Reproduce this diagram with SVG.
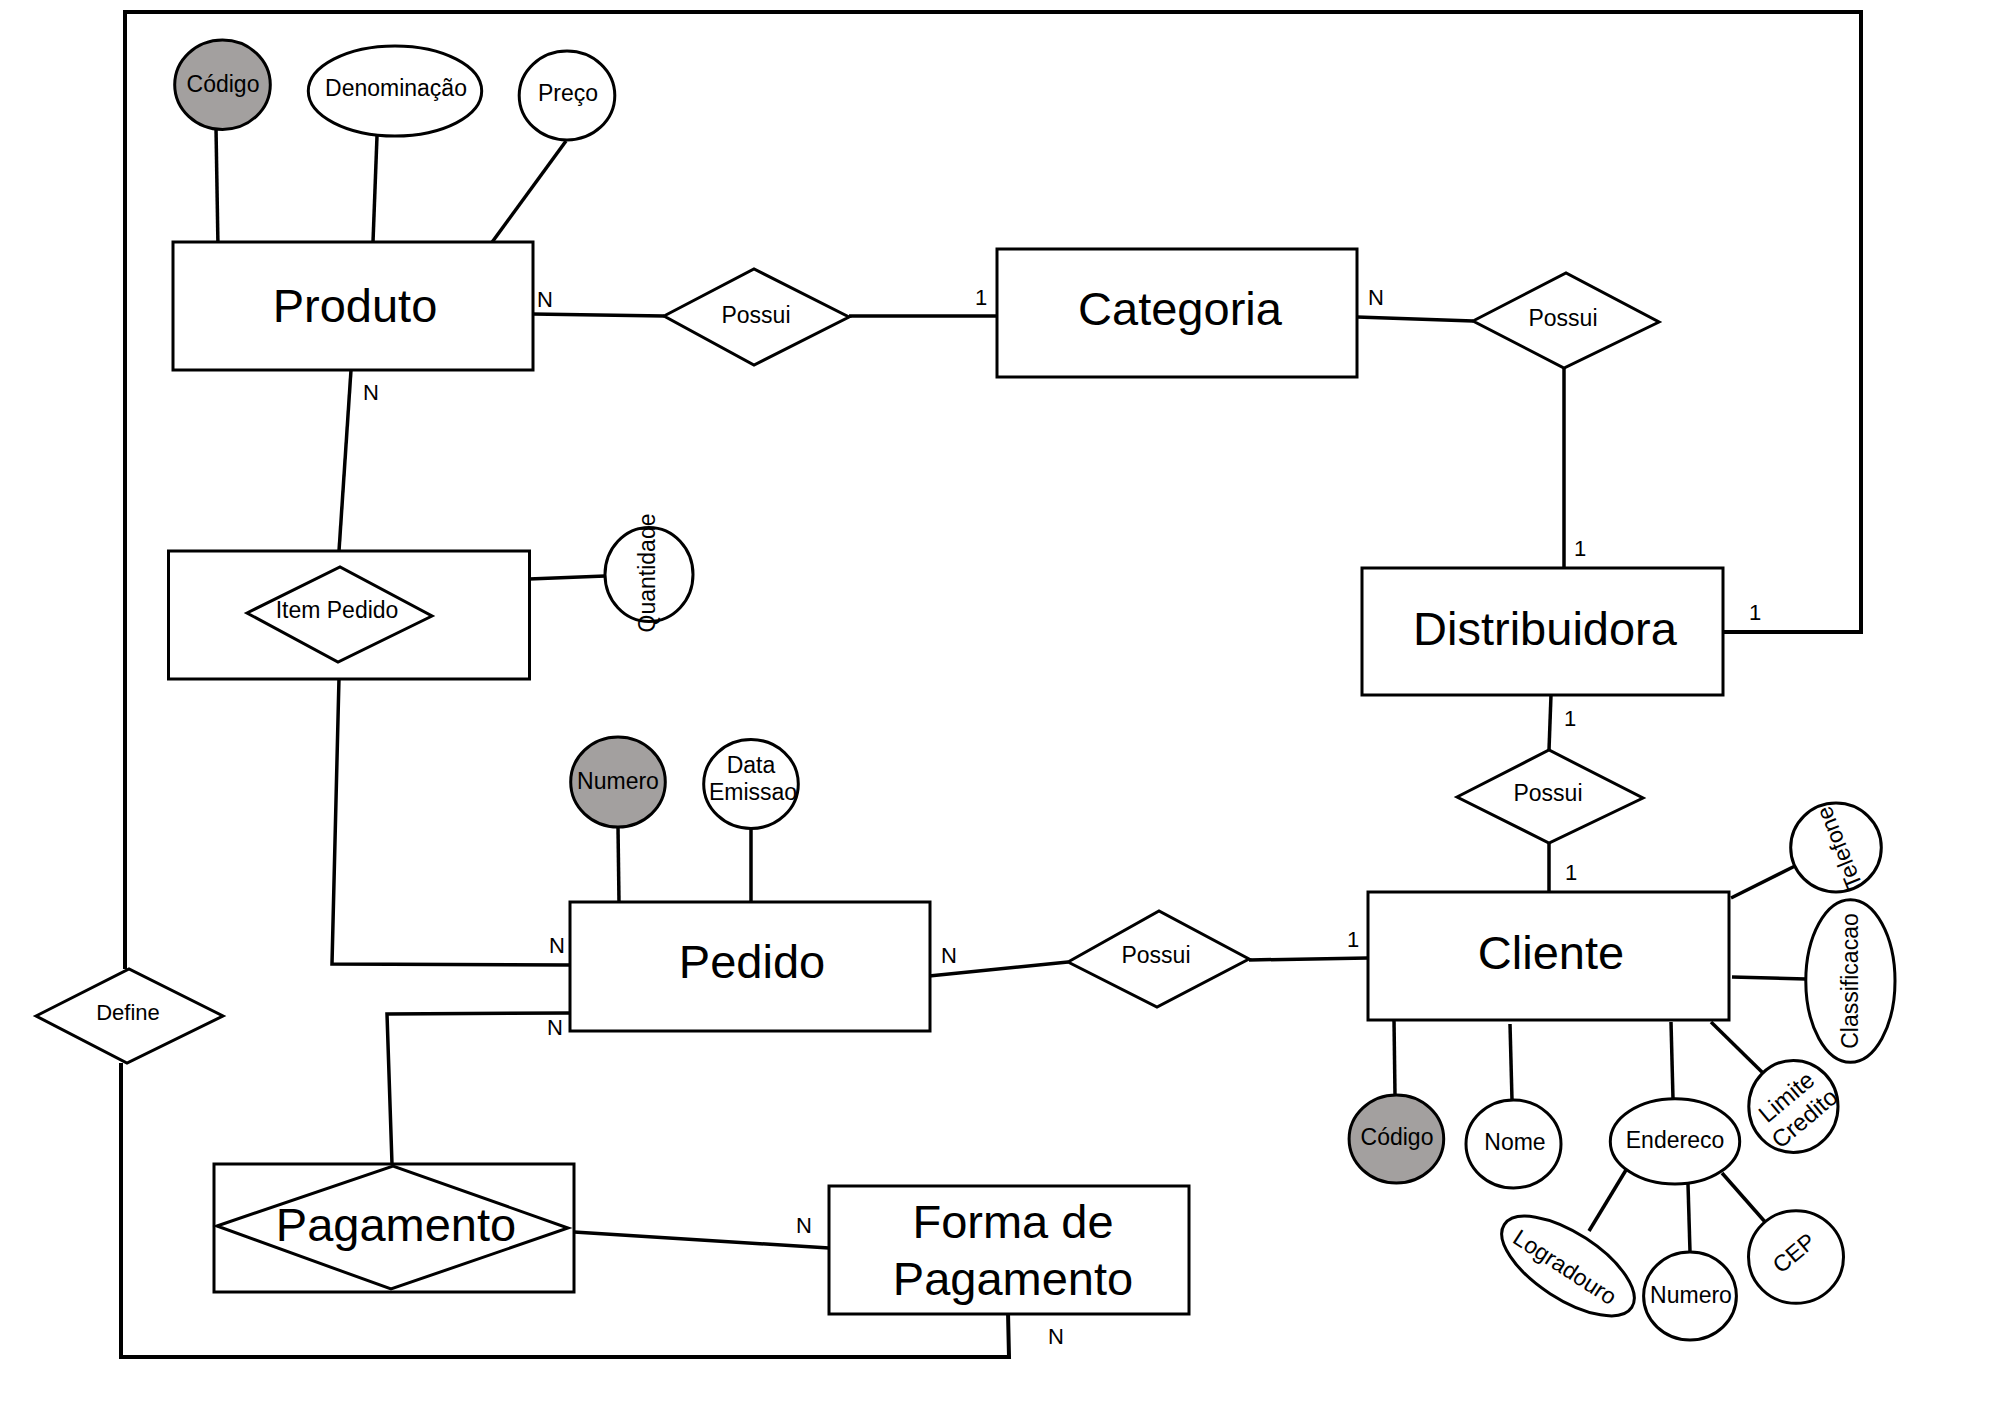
<svg xmlns="http://www.w3.org/2000/svg" width="2000" height="1405" viewBox="0 0 2000 1405">
<style>
text{font-family:"Liberation Sans",Arial,sans-serif;fill:#000}
.ent{fill:#fff;stroke:#000;stroke-width:3}
.rel{fill:#fff;stroke:#000;stroke-width:3;stroke-linejoin:miter}
.att{fill:#fff;stroke:#000;stroke-width:3}
.key{fill:#a3a09f;stroke:#000;stroke-width:3}
.big{font-size:47px;text-anchor:middle}
.lbl{font-size:23px;text-anchor:middle}
.card{font-size:22px}
#connectors line,#connectors polyline{stroke:#000;stroke-width:3.5;fill:none}
#connectors .frame{stroke-width:4}
</style>
<rect width="2000" height="1405" fill="#fff"/>
<g id="connectors">
<line x1="216" y1="128" x2="218" y2="248"/>
<line x1="377" y1="136" x2="373" y2="242"/>
<line x1="566" y1="141" x2="490" y2="245"/>
<line x1="532" y1="314" x2="664" y2="316"/>
<line x1="849" y1="316" x2="997" y2="316"/>
<line x1="1357" y1="317" x2="1473" y2="321"/>
<line x1="1564" y1="368" x2="1564" y2="568"/>
<polyline class="frame" points="1721,632 1861,632 1861,12 125,12 125,969"/>
<line x1="1551" y1="695" x2="1549" y2="750"/>
<line x1="1549" y1="843" x2="1549" y2="892"/>
<line x1="351" y1="370" x2="339" y2="551"/>
<line x1="529" y1="579" x2="605" y2="576"/>
<polyline points="339,678 332,964 570,965"/>
<line x1="618" y1="827" x2="619" y2="902"/>
<line x1="751" y1="828" x2="751" y2="902"/>
<line x1="929" y1="976" x2="1068" y2="962"/>
<line x1="1249" y1="960" x2="1368" y2="958"/>
<polyline points="570,1013 387,1014 392,1164"/>
<line x1="574" y1="1232" x2="829" y2="1248"/>
<polyline class="frame" points="1008,1312 1009,1357 121,1357 121,1063"/>
<line x1="1731" y1="898" x2="1795" y2="866"/>
<line x1="1732" y1="977" x2="1806" y2="979"/>
<line x1="1711" y1="1022" x2="1764" y2="1074"/>
<line x1="1394" y1="1020" x2="1395" y2="1095"/>
<line x1="1510" y1="1024" x2="1512" y2="1100"/>
<line x1="1671" y1="1022" x2="1673" y2="1099"/>
<line x1="1626" y1="1170" x2="1589" y2="1231"/>
<line x1="1688" y1="1184" x2="1690" y2="1252"/>
<line x1="1722" y1="1173" x2="1766" y2="1223"/>
<text class="card" x="537" y="307">N</text>
<text class="card" x="975" y="305">1</text>
<text class="card" x="1368" y="305">N</text>
<text class="card" x="1574" y="556">1</text>
<text class="card" x="1749" y="620">1</text>
<text class="card" x="1564" y="726">1</text>
<text class="card" x="1565" y="880">1</text>
<text class="card" x="1347" y="947">1</text>
<text class="card" x="941" y="963">N</text>
<text class="card" x="549" y="953">N</text>
<text class="card" x="547" y="1035">N</text>
<text class="card" x="796" y="1233">N</text>
<text class="card" x="1048" y="1344">N</text>
<text class="card" x="363" y="400">N</text>
</g>
<g id="produto"><rect class="ent" x="173" y="242" width="360" height="128"/><text class="big" x="355" y="322">Produto</text></g>
<g id="categoria"><rect class="ent" x="997" y="249" width="360" height="128"/><text class="big" x="1180" y="325">Categoria</text></g>
<g id="distribuidora"><rect class="ent" x="1362" y="568" width="361" height="127"/><text class="big" x="1545" y="645">Distribuidora</text></g>
<g id="cliente"><rect class="ent" x="1368" y="892" width="361" height="128"/><text class="big" x="1551" y="969">Cliente</text></g>
<g id="pedido"><rect class="ent" x="570" y="902" width="360" height="129"/><text class="big" x="752" y="978">Pedido</text></g>
<g id="forma-pagamento"><rect class="ent" x="829" y="1186" width="360" height="128"/><text class="big" x="1013" y="1238">Forma de</text><text class="big" x="1013" y="1295">Pagamento</text></g>
<g id="item-pedido"><rect class="ent" x="168.5" y="551" width="361" height="128"/><polygon class="rel" points="247,613 340,567 432,616 338,662"/><text class="lbl" x="337" y="618">Item Pedido</text></g>
<g id="pagamento"><rect class="ent" x="214" y="1164" width="360" height="128"/><polygon class="rel" points="217,1226 393,1166 568,1228 391,1289"/><text class="big" x="396" y="1241">Pagamento</text></g>
<g id="possui-1"><polygon class="rel" points="664,316 754,269 849,317 754,365"/><text class="lbl" x="756" y="323">Possui</text></g>
<g id="possui-2"><polygon class="rel" points="1473,321 1566,273 1659,322 1564,368"/><text class="lbl" x="1563" y="326">Possui</text></g>
<g id="possui-3"><polygon class="rel" points="1457,797 1549,750 1643,798 1549,843"/><text class="lbl" x="1548" y="801">Possui</text></g>
<g id="possui-4"><polygon class="rel" points="1068,962 1159,911 1249,959 1157,1007"/><text class="lbl" x="1156" y="963">Possui</text></g>
<g id="define"><polygon class="rel" points="36,1016 129,969 223,1016 127,1063"/><text class="lbl" x="128" y="1020" style="font-size:22px">Define</text></g>
<g id="produto-codigo"><ellipse class="key" cx="222.5" cy="84.7" rx="47.8" ry="44.7"/><text class="lbl" x="223" y="92">Código</text></g>
<g id="produto-denominacao"><ellipse class="att" cx="395" cy="91" rx="86.7" ry="45"/><text class="lbl" x="396" y="96">Denominação</text></g>
<g id="produto-preco"><ellipse class="att" cx="567" cy="95.5" rx="47.8" ry="44.5"/><text class="lbl" x="568" y="101">Preço</text></g>
<g id="quantidade"><ellipse class="att" cx="649" cy="574.5" rx="44" ry="47"/><text class="lbl" transform="translate(647,573) rotate(-90)" x="0" y="8">Quantidade</text></g>
<g id="pedido-numero"><ellipse class="key" cx="618" cy="782" rx="47.3" ry="45"/><text class="lbl" x="618" y="789">Numero</text></g>
<g id="pedido-data"><ellipse class="att" cx="751" cy="784" rx="47.3" ry="44.5"/><text class="lbl" x="751" y="773">Data</text><text class="lbl" x="753" y="800">Emissao</text></g>
<g id="cliente-telefone"><ellipse class="att" cx="1836" cy="847.5" rx="45.3" ry="44.4"/><text class="lbl" transform="translate(1839,848) rotate(-112)" x="0" y="8">Telefone</text></g>
<g id="cliente-classificacao"><ellipse class="att" cx="1850.4" cy="981" rx="44.6" ry="81.3"/><text class="lbl" transform="translate(1850,981) rotate(-90)" x="0" y="8">Classificacao</text></g>
<g id="cliente-limite"><ellipse class="att" cx="1793.4" cy="1106.4" rx="44.6" ry="46"/><g transform="translate(1795,1107) rotate(-40)"><text class="lbl" x="0" y="-5" style="font-size:24px">Limite</text><text class="lbl" x="0" y="23" style="font-size:24px">Credito</text></g></g>
<g id="cliente-codigo"><ellipse class="key" cx="1396.4" cy="1139" rx="47.3" ry="44"/><text class="lbl" x="1397" y="1145">Código</text></g>
<g id="cliente-nome"><ellipse class="att" cx="1513.5" cy="1144" rx="47.5" ry="44"/><text class="lbl" x="1515" y="1150">Nome</text></g>
<g id="cliente-endereco"><ellipse class="att" cx="1675" cy="1141.4" rx="64.7" ry="42.7"/><text class="lbl" x="1675" y="1148">Endereco</text></g>
<g id="endereco-logradouro"><ellipse class="att" cx="0" cy="0" rx="76" ry="33" transform="translate(1568,1266) rotate(33)"/><text class="lbl" transform="translate(1565,1267) rotate(33)" x="0" y="8">Logradouro</text></g>
<g id="endereco-numero"><ellipse class="att" cx="1690" cy="1296" rx="46.4" ry="44"/><text class="lbl" x="1691" y="1303">Numero</text></g>
<g id="endereco-cep"><ellipse class="att" cx="1796" cy="1257" rx="47.5" ry="46.3"/><text class="lbl" transform="translate(1794,1253) rotate(-40)" x="0" y="8">CEP</text></g>
</svg>
